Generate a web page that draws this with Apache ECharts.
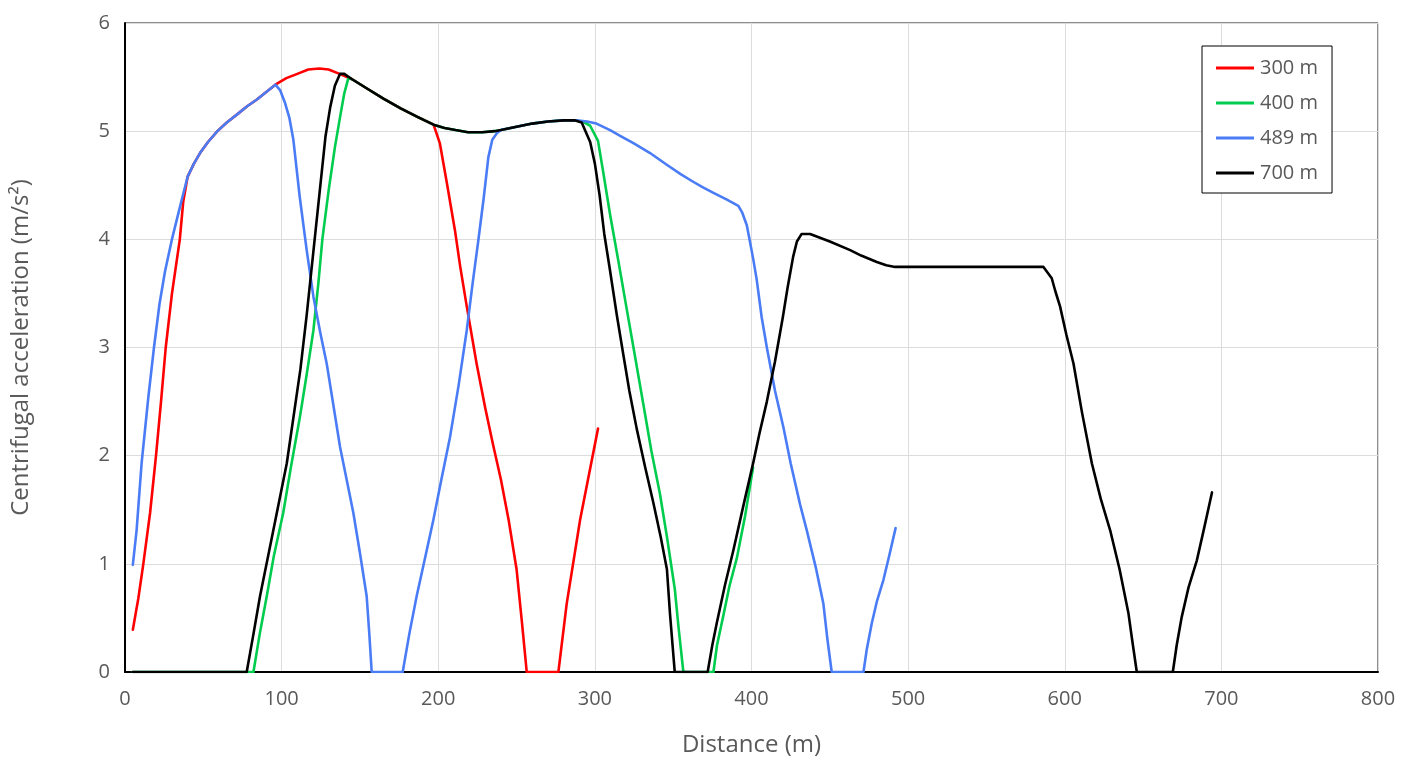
<!DOCTYPE html>
<html>
<head>
<meta charset="utf-8">
<title>Centrifugal acceleration vs distance</title>
<script src="https://cdn.jsdelivr.net/npm/echarts@6/dist/echarts.min.js"></script>
<style>
  html, body { margin: 0; padding: 0; background: #fff; }
  #chart { width: 1411px; height: 758px; }
</style>
</head>
<body>
<div id="chart"></div>
<script>
// Axis ticks
const xTicks = { min: 0, max: 800, step: 100 };
const yTicks = { min: 0, max: 6, step: 1 };

// Series names
const seriesNames = ['300 m', '400 m', '489 m', '700 m'];

// [distance (m), centrifugal acceleration (m/s²)]
const run300 = [
  [5,0.39],[8.5,0.68],[11.7,1.0],[16,1.47],[19.8,2.0],[23,2.5],[26,3.0],[30,3.5],[35,4.0],[37.2,4.35],[40,4.58],
  [44,4.7],[48,4.8],[53,4.9],[59,5.0],[65,5.08],[72,5.16],[78,5.23],[84,5.29],[90,5.36],[96,5.43],
  [103,5.49],[110,5.53],[117,5.57],[124,5.58],[130,5.57],[137,5.53],
  [145,5.48],[155,5.39],[165,5.30],[176,5.21],[187,5.13],[197,5.06],
  [201,4.89],[205.5,4.52],[210.7,4.08],[214,3.75],[218.2,3.38],[224.5,2.85],[230,2.44],[235,2.1],[240,1.78],
  [245,1.4],[250,0.95],[253.5,0.45],[256.5,0],[276.7,0],[282,0.63],[290.6,1.41],[302,2.25]
];

const run400 = [
  [5,0],[82,0],[86,0.35],[90.5,0.70],[95,1.07],[101,1.47],[106,1.9],[111.7,2.36],[116,2.75],[120.3,3.16],
  [123.5,3.6],[126,4.0],[130,4.45],[134,4.85],[137.3,5.13],[140,5.35],[142.6,5.49],[145,5.48],
  [155,5.39],[165,5.30],[176,5.21],[187,5.13],[197,5.06],
  [204,5.03],[211,5.01],[219,4.99],[228,4.99],[236,5.0],[240,5.01],[250,5.04],[260,5.07],[270,5.09],[280,5.10],[287,5.10],
  [292,5.09],[297,5.05],[302,4.91],[305,4.65],[309.7,4.23],[315,3.8],[320.4,3.35],[325,2.97],[331,2.47],[336,2.05],
  [341.5,1.65],[346,1.25],[351,0.77],[353.5,0.4],[356.5,0],[375.7,0],[378,0.25],[382,0.52],[386,0.8],[390.6,1.05],
  [396,1.45],[401,1.89]
];

const run489 = [
  [5,0.99],[7.4,1.31],[10.6,1.93],[14.9,2.54],[18.5,3.0],[22,3.4],[25.5,3.7],[29.8,3.99],[35.1,4.30],[40,4.58],
  [44,4.7],[48,4.8],[53,4.9],[59,5.0],[65,5.08],[72,5.16],[78,5.23],[84,5.29],[90,5.36],[96,5.43],
  [99,5.38],[102.2,5.26],[105,5.12],[107.5,4.92],[111.5,4.4],[116,3.9],[120.3,3.47],[124.5,3.15],[128.8,2.85],
  [133,2.47],[137.3,2.08],[141.5,1.78],[145.8,1.47],[150,1.1],[154.3,0.70],[156,0.35],[157.5,0],[177.3,0],
  [181.5,0.35],[186.2,0.70],[191.5,1.05],[196.8,1.40],[202,1.78],[207.5,2.17],[213,2.65],[218.2,3.16],[222,3.6],
  [225.5,3.98],[229,4.38],[232,4.76],[234.5,4.92],[237.4,4.98],[240,5.01],[250,5.04],[260,5.07],[270,5.09],
  [280,5.10],[288,5.10],[295,5.09],[301,5.07],[309.7,5.01],[317,4.95],[324.6,4.89],[335,4.80],[345.9,4.69],
  [355,4.60],[363,4.53],[369,4.48],[375.7,4.43],[384,4.37],[391.6,4.31],[394,4.25],[397,4.13],[399,3.98],
  [401.2,3.81],[403.3,3.63],[406.5,3.28],[409.8,3.0],[415,2.6],[420.4,2.26],[425,1.93],[431,1.55],[435.3,1.31],
  [441,0.97],[445.9,0.63],[448.5,0.3],[451.2,0],[471.5,0],[473.5,0.2],[476.8,0.45],[480,0.65],[484.2,0.85],
  [488,1.08],[492,1.33]
];

const run700 = [
  [5,0],[77.7,0],[82,0.35],[86.2,0.70],[94.7,1.31],[103.3,1.93],[112,2.8],[116,3.3],[120,3.85],[124,4.4],
  [128,4.95],[131,5.22],[134,5.42],[137.3,5.53],[140,5.53],[145,5.48],
  [155,5.39],[165,5.30],[176,5.21],[187,5.13],[197,5.06],
  [204,5.03],[211,5.01],[219,4.99],[228,4.99],[236,5.0],[240,5.01],[250,5.04],[260,5.07],[270,5.09],[280,5.10],[287,5.10],
  [291.6,5.08],[294,5.0],[297,4.9],[300,4.7],[303,4.41],[306,4.05],[309.7,3.71],[314,3.3],[318.2,2.93],[322,2.6],
  [326.7,2.25],[332,1.9],[337.4,1.56],[342,1.25],[346,0.95],[348,0.53],[351,0],[372,0],[375,0.25],[377.8,0.45],
  [383,0.8],[388.5,1.13],[395,1.55],[401.2,1.94],[405,2.2],[409.8,2.5],[415,2.87],[420,3.28],[423,3.55],
  [426.6,3.84],[429,3.98],[432,4.05],[437.4,4.05],[450,3.98],[463,3.9],[470,3.85],[480,3.79],[486,3.76],
  [491.7,3.745],[586.4,3.745],[591.7,3.64],[594,3.52],[597,3.38],[601,3.12],[605.6,2.85],[611,2.4],[617.3,1.93],
  [623,1.6],[629,1.31],[635,0.95],[640.7,0.54],[643,0.3],[646,0],[669,0],[671.5,0.25],[674.7,0.51],[679,0.78],
  [684.3,1.03],[689,1.33],[694,1.66]
];

const seriesData = [run300, run400, run489, run700];
const seriesColors = ['#ff0000', '#00cc4e', '#4a7cf5', '#000000'];

const FONT = "'Open Sans', 'Liberation Sans', sans-serif";
const TEXT = '#595959';

// Legend key: a plain horizontal stroke centred in a 38x14 box
// (the two empty sub-paths only set the bounding box).
const LEGEND_LINE = 'path://M0,0L0,0Z M38,14L38,14Z M0,5.6L38,5.6L38,8.4L0,8.4Z';

const chart = echarts.init(document.getElementById('chart'), null, { renderer: 'canvas' });

chart.setOption({
  animation: false,
  backgroundColor: '#ffffff',
  textStyle: { fontFamily: FONT },
  grid: {
    left: 125, right: 33, top: 23, bottom: 86,
    containLabel: false,
    outerBoundsMode: 'none',
    show: true, borderColor: '#1a1a1a', borderWidth: 1, backgroundColor: 'transparent'
  },
  legend: {
    orient: 'vertical',
    left: 1202, top: 46,
    padding: [12, 14, 10, 14],
    itemWidth: 38, itemHeight: 14, itemGap: 15,
    icon: LEGEND_LINE,
    backgroundColor: '#ffffff',
    borderColor: '#000000', borderWidth: 1,
    textStyle: { fontFamily: FONT, fontSize: 20, color: TEXT, padding: [0, 0, 0, 1] },
    data: seriesNames
  },
  xAxis: {
    type: 'value',
    min: xTicks.min, max: xTicks.max, interval: xTicks.step,
    name: 'Distance (m)',
    nameLocation: 'middle',
    nameGap: 61,
    nameTextStyle: { fontFamily: FONT, fontSize: 24, color: TEXT },
    axisLine: { show: true, lineStyle: { color: '#000', width: 2 } },
    axisTick: { show: false },
    axisLabel: { fontFamily: FONT, fontSize: 20, color: TEXT, margin: 17 },
    splitLine: { show: true, lineStyle: { color: '#dcdcdc', width: 1 } }
  },
  yAxis: {
    type: 'value',
    min: yTicks.min, max: yTicks.max, interval: yTicks.step,
    name: 'Centrifugal acceleration (m/s²)',
    nameLocation: 'middle',
    nameGap: 92,
    nameTextStyle: { fontFamily: FONT, fontSize: 24, color: TEXT },
    axisLine: { show: true, lineStyle: { color: '#000', width: 2 } },
    axisTick: { show: false },
    axisLabel: { fontFamily: FONT, fontSize: 20, color: TEXT, margin: 15 },
    splitLine: { show: true, lineStyle: { color: '#dcdcdc', width: 1 } }
  },
  series: seriesNames.map((name, i) => ({
    name: name,
    type: 'line',
    data: seriesData[i],
    symbol: 'none',
    smooth: false,
    color: seriesColors[i],
    lineStyle: { color: seriesColors[i], width: 2.6, join: 'round', cap: 'round' },
    z: 3 + i
  }))
});
</script>
</body>
</html>
